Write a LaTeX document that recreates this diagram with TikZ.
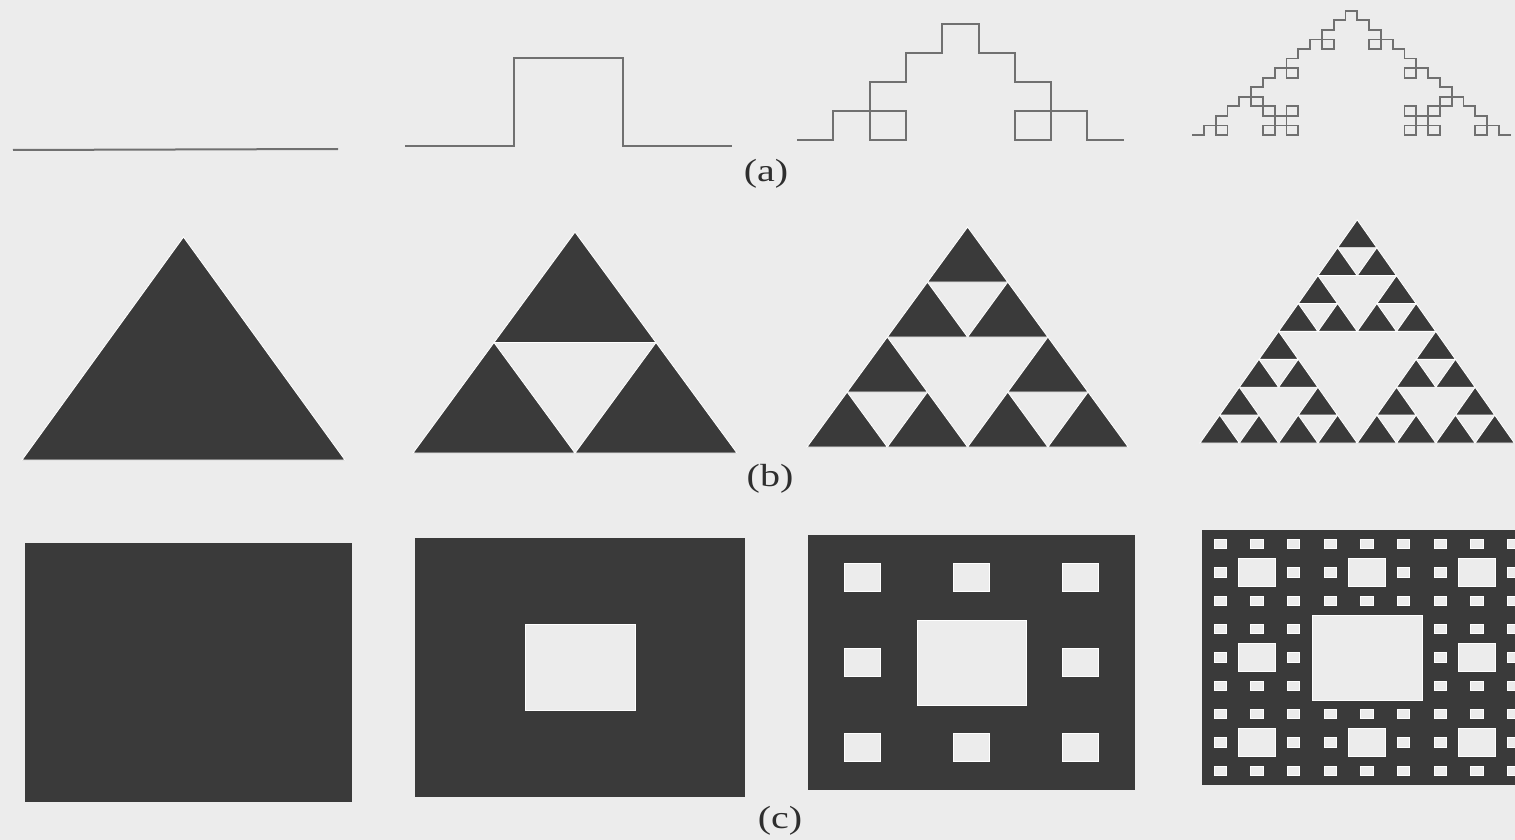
\documentclass[tikz,border=0pt]{standalone}
\usepackage{fontspec}
\setmainfont{Liberation Serif}
\usetikzlibrary{lindenmayersystems}

\definecolor{paper}{RGB}{236,236,236}
\definecolor{ink}{RGB}{58,58,58}
\definecolor{pencil}{RGB}{112,112,112}

\pgfdeclarelindenmayersystem{box koch}{\rule{F -> F+F-F-F+F}}

\tikzset{
  curve/.style={draw=pencil, line width=2pt, line join=miter},
  piece/.style={fill=ink, draw=white, line width=0.9pt},
  hole/.style={fill=paper, draw=white, line width=0.9pt},
  caption/.style={font=\fontsize{40}{40}\selectfont, yscale=0.8, text=ink!80!black}
}

% sierpinski gasket, level #1, on a grid of unit cells
\newcommand\gasket[1]{%
  \pgfmathtruncatemacro\last{2^#1-1}
  \foreach \j in {0,...,\last}{
    \pgfmathtruncatemacro\rowlast{\last-\j}
    \foreach \i in {0,...,\rowlast}{
      \pgfmathtruncatemacro\hit{mod(\i,2)*mod(\j,2)+mod(int(\i/2),2)*mod(int(\j/2),2)+mod(int(\i/4),2)*mod(int(\j/4),2)}
      \ifnum\hit=0
        \path[piece] (\i+\j/2,\j) -- ++(1,0) -- ++(-0.5,1) -- cycle;
      \fi
    }
  }
}

% sierpinski carpet holes in the unit square, smallest first
\newcommand\carpetholes[1]{%
  \foreach \m in {#1,...,1}{
    \pgfmathsetmacro\u{1/3^\m}
    \pgfmathtruncatemacro\last{3^(\m-1)-1}
    \foreach \p in {0,...,\last}
      \foreach \q in {0,...,\last}
        \path[hole] ({(3*\p+1)*\u},{(3*\q+1)*\u}) rectangle +(\u,\u);
  }
}

\begin{document}
\begin{tikzpicture}[x=1pt, y=-1pt]
  \clip (0,0) rectangle (1515,840);
  \fill[paper] (0,0) rectangle (1515,840);

  % (a)
  \draw[curve] (13,150) -- (338,149);
  \begin{scope}[shift={(405,146)}, yscale=0.81]
    \draw[curve, lindenmayer system={box koch, axiom=F, order=1, step=109pt, angle=90}] (0,0) lindenmayer system;
  \end{scope}
  \begin{scope}[shift={(797,140)}, yscale=0.8]
    \draw[curve, lindenmayer system={box koch, axiom=F, order=2, step=36.3pt, angle=90}] (0,0) lindenmayer system;
  \end{scope}
  \begin{scope}[shift={(1192,135)}, yscale=0.81]
    \draw[curve, line width=1.8pt, lindenmayer system={box koch, axiom=F, order=3, step=11.8pt, angle=90}] (0,0) lindenmayer system;
  \end{scope}
  \node[caption] (a) at (766,174) {(a)};

  % (b)
  \begin{scope}[shift={(22,460)}, x=323pt, y=223pt]
    \gasket{0}
  \end{scope}
  \begin{scope}[shift={(413,453)}, x=162pt, y=110.5pt]
    \gasket{1}
  \end{scope}
  \begin{scope}[shift={(807,447)}, x=80.3pt, y=55pt]
    \gasket{2}
  \end{scope}
  \begin{scope}[shift={(1200,443)}, x=39.3pt, y=27.9pt]
    \gasket{3}
  \end{scope}
  \node[caption] (b) at (770,479) {(b)};

  % (c)
  \fill[ink] (25,543) rectangle (352,802);
  \begin{scope}[shift={(415,797)}, x=330pt, y=259pt]
    \fill[ink] (0,0) rectangle (1,1);
    \carpetholes{1}
  \end{scope}
  \begin{scope}[shift={(808,790)}, x=327pt, y=255pt]
    \fill[ink] (0,0) rectangle (1,1);
    \carpetholes{2}
  \end{scope}
  \begin{scope}[shift={(1202,785)}, x=330pt, y=255pt]
    \fill[ink] (0,0) rectangle (1,1);
    \carpetholes{3}
  \end{scope}
  \node[caption] (c) at (780,821) {(c)};
\end{tikzpicture}
\end{document}
